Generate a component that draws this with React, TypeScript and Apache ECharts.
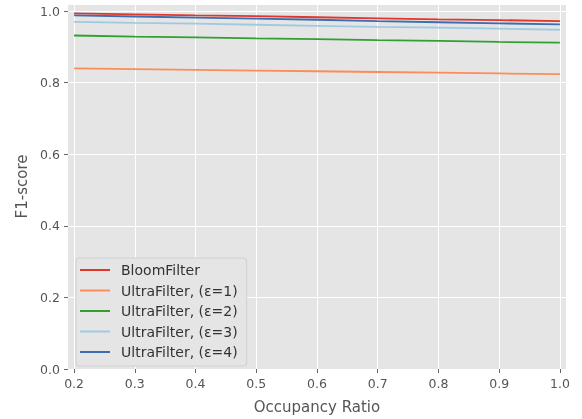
import React, { useEffect, useRef } from "react";
import * as echarts from "echarts";

const occupancy = [0.2, 0.3, 0.4, 0.5, 0.6, 0.7, 0.8, 0.9, 1.0];
const bloom = [0.994, 0.991, 0.988, 0.986, 0.983, 0.980, 0.977, 0.975, 0.972];
const ultra1 = [0.840, 0.838, 0.836, 0.834, 0.832, 0.830, 0.828, 0.826, 0.824];
const ultra2 = [0.932, 0.929, 0.927, 0.924, 0.922, 0.919, 0.917, 0.914, 0.912];
const ultra3 = [0.970, 0.967, 0.965, 0.962, 0.959, 0.956, 0.954, 0.951, 0.948];
const ultra4 = [0.988, 0.985, 0.982, 0.979, 0.976, 0.972, 0.969, 0.966, 0.963];

const xTicks = [0.2, 0.3, 0.4, 0.5, 0.6, 0.7, 0.8, 0.9, 1.0];

const seriesNames = [
  "BloomFilter",
  "UltraFilter, (ε=1)",
  "UltraFilter, (ε=2)",
  "UltraFilter, (ε=3)",
  "UltraFilter, (ε=4)",
];
const seriesColors = ["#e0362c", "#fc8d59", "#31a02f", "#9ecae1", "#3c6db0"];
const seriesData = [bloom, ultra1, ultra2, ultra3, ultra4];

export default function App() {
  const ref = useRef<HTMLDivElement>(null);
  useEffect(() => {
    if (!ref.current) return;
    const chart = echarts.init(ref.current, undefined, { renderer: "svg" });
    const font = "DejaVu Sans";
    chart.setOption({
      animation: false,
      textStyle: { fontFamily: font },
      grid: { left: 68, right: 16, top: 4, bottom: 45, backgroundColor: "#e5e5e5", show: true, borderWidth: 0 },
      legend: {
        orient: "vertical",
        left: 76,
        top: 258,
        padding: [5, 9, 7, 4],
        backgroundColor: "#e5e5e5",
        borderColor: "#d0d0d0",
        borderWidth: 1,
        borderRadius: 3,
        itemWidth: 30,
        itemHeight: 14,
        itemGap: 6.5,
        textStyle: { fontFamily: font, fontSize: 14, color: "#333", padding: [0, 0, 0, 6] },
        data: seriesNames,
        icon: "path://M0,6 L30,6 L30,8 L0,8 Z",
      },
      xAxis: {
        type: "value",
        min: 0.19,
        max: 1.01,
        name: "Occupancy Ratio",
        nameLocation: "middle",
        nameGap: 30,
        nameTextStyle: { fontFamily: font, fontSize: 15, color: "#555" },
        axisLine: { show: false },
        axisTick: { show: true, length: 4, lineStyle: { color: "#666" }, customValues: xTicks },
        axisLabel: {
          fontFamily: font,
          fontSize: 12.5,
          color: "#555",
          margin: 8,
          customValues: xTicks,
          formatter: (v: number) => v.toFixed(1),
        },
        splitLine: { show: true, lineStyle: { color: "#ffffff", width: 1 } },
      },
      yAxis: {
        type: "value",
        min: 0,
        max: 1.02,
        interval: 0.2,
        name: "F1-score",
        nameLocation: "middle",
        nameGap: 39,
        nameTextStyle: { fontFamily: font, fontSize: 15, color: "#555" },
        axisLine: { show: false },
        axisTick: { show: true, length: 4, lineStyle: { color: "#666" } },
        axisLabel: {
          fontFamily: font,
          fontSize: 12.5,
          color: "#555",
          margin: 8,
          showMaxLabel: false,
          formatter: (v: number) => v.toFixed(1),
        },
        splitLine: { show: true, lineStyle: { color: "#ffffff", width: 1 } },
      },
      series: seriesNames.map((name, i) => ({
        name,
        type: "line",
        symbol: "none",
        color: seriesColors[i],
        lineStyle: { width: 1.8, color: seriesColors[i] },
        data: occupancy.map((x, j) => [x, seriesData[i][j]]),
      })),
    });
    return () => chart.dispose();
  }, []);
  return <div ref={ref} style={{ position: "fixed", left: 0, top: 0, width: 582, height: 419 }} />;
}
